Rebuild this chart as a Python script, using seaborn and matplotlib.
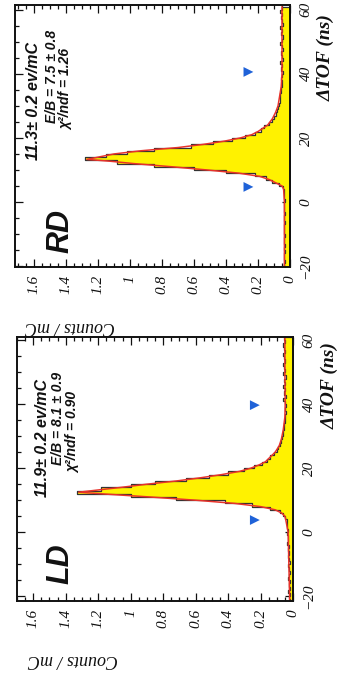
import numpy as np
import pandas as pd
import matplotlib
matplotlib.use("Agg")
import matplotlib.pyplot as plt
import seaborn as sns

# ---------------- data ----------------
tof_edges = list(range(-22, 62))           # 1 ns bins, -22 .. 61
tof_centers = [e + 0.5 for e in tof_edges[:-1]]

# RD histogram (Counts / mC), bins -22 .. 60 (left edges)
rd_counts = [
    0.035, 0.03, 0.04, 0.03, 0.035, 0.04, 0.03, 0.035, 0.03, 0.04,   # -22..-13
    0.035, 0.03, 0.035, 0.04, 0.035, 0.03, 0.035, 0.04, 0.03, 0.035, # -12..-3
    0.04, 0.035, 0.03, 0.035, 0.04, 0.035, 0.045,                     # -2..4
    0.07, 0.11, 0.15, 0.22, 0.40, 0.60, 0.85, 1.08, 1.28, 1.15,       # 5..14
    1.02, 0.85, 0.62, 0.48, 0.36, 0.28, 0.22, 0.18, 0.16, 0.13,       # 15..24
    0.11, 0.10, 0.09, 0.08, 0.075, 0.07, 0.065, 0.06, 0.06, 0.055,    # 25..34
    0.055, 0.05, 0.05, 0.055, 0.05, 0.045, 0.055, 0.05, 0.06, 0.045,  # 35..44
    0.05, 0.055, 0.045, 0.05, 0.06, 0.05, 0.045, 0.055, 0.05, 0.06,   # 45..54
    0.045, 0.05, 0.055, 0.05, 0.06, 0.05,                             # 55..60
]

# LD histogram (Counts / mC), bins -22 .. 60 (left edges)
ld_counts = [
    0.02, 0.025, 0.02, 0.03, 0.02, 0.025, 0.02, 0.03, 0.025, 0.02,   # -22..-13
    0.025, 0.03, 0.02, 0.025, 0.03, 0.025, 0.03, 0.025, 0.035, 0.03, # -12..-3
    0.03, 0.035, 0.03, 0.04, 0.035, 0.04, 0.05,                       # -2..4
    0.06, 0.08, 0.14, 0.25, 0.42, 0.72, 1.00, 1.33, 1.18, 1.00,       # 5..14
    0.85, 0.66, 0.52, 0.40, 0.30, 0.24, 0.19, 0.16, 0.14, 0.12,       # 15..24
    0.10, 0.09, 0.08, 0.075, 0.07, 0.06, 0.06, 0.055, 0.055, 0.05,    # 25..34
    0.05, 0.05, 0.045, 0.05, 0.045, 0.05, 0.06, 0.045, 0.055, 0.05,   # 35..44
    0.06, 0.05, 0.055, 0.045, 0.06, 0.05, 0.055, 0.06, 0.05, 0.055,   # 45..54
    0.06, 0.05, 0.055, 0.06, 0.05, 0.055,                             # 55..60
]

# fitted curves (red)
rd_fit_tof = [-22, 0, 4, 5, 6, 7, 8, 9, 10, 11, 12, 12.7, 13.3, 14, 15, 16, 17,
              18, 19, 20, 21, 22, 23, 24, 26, 28, 30, 33, 36, 40, 50, 61]
rd_fit_val = [0.035, 0.035, 0.04, 0.05, 0.09, 0.13, 0.19, 0.32, 0.52, 0.74, 0.98,
              1.12, 1.27, 1.2, 1.1, 0.93, 0.70, 0.54, 0.41, 0.31, 0.24, 0.20,
              0.17, 0.14, 0.11, 0.09, 0.075, 0.065, 0.055, 0.05, 0.05, 0.05]

ld_fit_tof = [-22, 0, 4, 5, 6, 7, 8, 9, 10, 11, 11.9, 12.5, 13.2, 14, 15, 16, 17,
              18, 19, 20, 21, 22, 23, 25, 27, 29, 32, 36, 40, 50, 61]
ld_fit_val = [0.02, 0.03, 0.045, 0.05, 0.07, 0.11, 0.20, 0.36, 0.60, 0.88, 1.15,
              1.32, 1.20, 1.06, 0.90, 0.72, 0.57, 0.44, 0.33, 0.26, 0.21, 0.17,
              0.15, 0.11, 0.085, 0.072, 0.06, 0.05, 0.048, 0.05, 0.05]

# triangle markers
rd_tri_tof = [4.7, 40.6]
rd_tri_cnt = [0.26, 0.26]
ld_tri_tof = [3.8, 39.7]
ld_tri_cnt = [0.235, 0.235]

rd_lines = ["11.3\u00b1 0.2 ev/mC", "E/B = 7.5 \u00b1 0.8", "\u03c7\u00b2/ndf = 1.26"]
ld_lines = ["11.9\u00b1 0.2 ev/mC", "E/B = 8.1 \u00b1 0.9", "\u03c7\u00b2/ndf = 0.90"]

count_ticks = [0, 0.2, 0.4, 0.6, 0.8, 1.0, 1.2, 1.4, 1.6]
count_ticklabels = ["0", "0.2", "0.4", "0.6", "0.8", "1", "1.2", "1.4", "1.6"]
tof_ticks = [-20, 0, 20, 40, 60]
tof_ticklabels = ["\u221220", "0", "20", "40", "60"]

assert len(rd_counts) == len(tof_centers) and len(ld_counts) == len(tof_centers)

# ---------------- style ----------------
sns.set_style("ticks")
plt.rcParams["font.family"] = ["Liberation Serif", "DejaVu Serif"]
plt.rcParams["axes.linewidth"] = 1.4

fig = plt.figure(figsize=(3.41, 6.79), dpi=100)
ax_rd = fig.add_axes([15 / 341, 1 - 267 / 679, 275 / 341, 262 / 679])
ax_ld = fig.add_axes([17 / 341, 1 - 601 / 679, 276 / 341, 264 / 679])

SANS = ["Liberation Sans", "DejaVu Sans"]
SERIF = ["Liberation Serif", "DejaVu Serif"]


def draw(ax, counts, fit_t, fit_v, tri_t, tri_c, xlim, ylim, name, lines,
         line_pos, name_pos, xlabel_pos, ylabel_pos):
    df = pd.DataFrame({"tof": tof_centers, "counts": counts})
    sns.histplot(data=df, y="tof", weights="counts", bins=tof_edges,
                 element="step", fill=True, color="#fff200", alpha=1,
                 edgecolor="#333333", linewidth=0.9, ax=ax)
    sns.lineplot(x=fit_v, y=fit_t, orient="y", sort=False, color="#e8322a",
                 linewidth=1.1, ax=ax)
    sns.scatterplot(x=tri_c, y=tri_t, marker=">", s=50, color="#1f62d8",
                    edgecolor="none", ax=ax, zorder=5)
    ax.set_xlim(*xlim)
    ax.set_ylim(*ylim)
    ax.set_xlabel("")
    ax.set_ylabel("")

    ax.set_xticks(count_ticks)
    ax.set_xticklabels(count_ticklabels, rotation=90, fontstyle="italic",
                       fontsize=11, family=SERIF)
    ax.set_xticks(np.arange(0, 1.75, 0.05), minor=True)
    ax.set_yticks(tof_ticks)
    ax.set_yticklabels(tof_ticklabels, rotation=90, fontstyle="italic",
                       fontsize=11, family=SERIF, va="center")
    ax.set_yticks(np.arange(-20, 61, 5), minor=True)
    ax.tick_params(axis="both", which="both", direction="in", top=True,
                   bottom=True, left=True, right=True, labelleft=False,
                   labelright=True, width=0.9, colors="#111111")
    ax.tick_params(which="major", length=6)
    ax.tick_params(which="minor", length=3)
    ax.tick_params(axis="y", pad=7)
    ax.tick_params(axis="x", pad=6)
    for s in ax.spines.values():
        s.set_visible(True)
        s.set_linewidth(1.4)
        s.set_color("#111111")

    sizes = [11.5, 10, 10]
    for txt, (px, py), fs in zip(lines, line_pos, sizes):
        ax.text(px, py, txt, transform=ax.transAxes, rotation=90,
                rotation_mode="anchor", ha="left", va="center",
                family=SANS, fontstyle="italic", fontweight="bold",
                fontsize=fs, color="#111111")
    ax.text(name_pos[0], name_pos[1], name, transform=ax.transAxes,
            rotation=90, ha="center", va="center", family=SANS,
            fontstyle="italic", fontweight="bold", fontsize=22,
            color="#111111")
    ax.text(xlabel_pos[0], xlabel_pos[1], "Counts / mC", transform=ax.transAxes,
            rotation=180, ha="center", va="center", family=SERIF,
            fontstyle="italic", fontsize=13, color="#111111")
    ax.text(ylabel_pos[0], ylabel_pos[1], "\u0394TOF (ns)", transform=ax.transAxes,
            rotation=90, ha="center", va="center", family=SERIF,
            fontstyle="italic", fontweight="bold", fontsize=14,
            color="#111111")


draw(ax_rd, rd_counts, rd_fit_tof, rd_fit_val, rd_tri_tof, rd_tri_cnt,
     (1.72, 0), (-20.3, 61.5), "RD", rd_lines,
     [(0.069, 0.408), (0.135, 0.550), (0.186, 0.523)],
     (0.167, 0.137), (0.20, -0.229), (1.13, 0.80))

draw(ax_ld, ld_counts, ld_fit_tof, ld_fit_val, ld_tri_tof, ld_tri_cnt,
     (1.70, 0), (-21.5, 61), "LD", ld_lines,
     [(0.091, 0.394), (0.150, 0.515), (0.205, 0.485)],
     (0.159, 0.140), (0.203, -0.223), (1.135, 0.815))

fig.savefig("out.png", dpi=100)
